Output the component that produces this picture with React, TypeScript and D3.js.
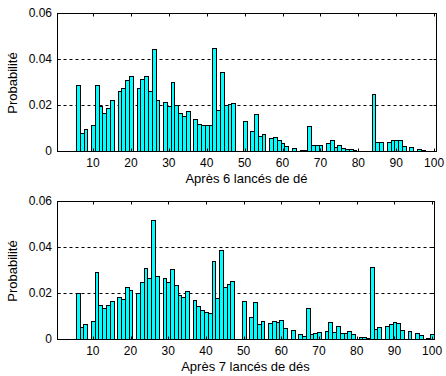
import React from "react";
import * as d3 from "d3";

const positions = [
  1, 2, 3, 4, 5, 6, 7, 8, 9, 10, 11, 12, 13, 14, 15, 16, 17, 18, 19, 20,
  21, 22, 23, 24, 25, 26, 27, 28, 29, 30, 31, 32, 33, 34, 35, 36, 37, 38, 39, 40,
  41, 42, 43, 44, 45, 46, 47, 48, 49, 50, 51, 52, 53, 54, 55, 56, 57, 58, 59, 60,
  61, 62, 63, 64, 65, 66, 67, 68, 69, 70, 71, 72, 73, 74, 75, 76, 77, 78, 79, 80,
  81, 82, 83, 84, 85, 86, 87, 88, 89, 90, 91, 92, 93, 94, 95, 96, 97, 98, 99, 100,
];

const probAfter6 = [
  0, 0, 0, 0, 0, 0.0287, 0.008, 0.0097, 0, 0.0114,
  0.0289, 0.0195, 0.0165, 0.0186, 0.022, 0, 0.0259, 0.0272, 0.031, 0.0327,
  0, 0.0276, 0.0314, 0.0327, 0.0259, 0.0444, 0.022, 0, 0.0213, 0.0195,
  0.0299, 0.0199, 0.0165, 0.0152, 0.0174, 0, 0.0139, 0.0118, 0.0114, 0.0114,
  0.0114, 0.0447, 0.0178, 0.0344, 0.0199, 0.0203, 0.0207, 0, 0, 0.0131,
  0, 0.0088, 0.0161, 0.0067, 0.0075, 0, 0.0058, 0.0063, 0.0046, 0.0033,
  0.002, 0, 0.0011, 0, 0.0003, 0.0003, 0.011, 0.0024, 0.0028, 0.0028,
  0, 0.0033, 0.005, 0.0016, 0.0024, 0.0011, 0.0007, 0.0007, 0.0003, 0,
  0, 0, 0, 0.025, 0.0037, 0.0037, 0, 0.0041, 0.0046, 0.005,
  0.005, 0.002, 0, 0.0016, 0, 0.0007, 0.0003, 0, 0, 0,
];

const probAfter7 = [
  0, 0, 0, 0, 0, 0.0199, 0.0052, 0.0065, 0, 0.0079,
  0.029, 0.0147, 0.0134, 0.0147, 0.0165, 0, 0.0182, 0.0173, 0.0225, 0.0212,
  0, 0.0199, 0.0247, 0.0307, 0.0264, 0.0519, 0.0273, 0, 0.0264, 0.0247,
  0.0303, 0.0234, 0.019, 0.0182, 0.0208, 0, 0.0169, 0.0143, 0.0126, 0.0117,
  0.0113, 0.0338, 0.0177, 0.0385, 0.0225, 0.0238, 0.0251, 0, 0, 0.0165,
  0, 0.0095, 0.016, 0.0065, 0.0078, 0, 0.0069, 0.0078, 0.0074, 0.0082,
  0.0048, 0, 0.0039, 0, 0.0022, 0.0013, 0.0134, 0.0022, 0.0026, 0.003,
  0, 0.0035, 0.0074, 0.003, 0.0056, 0.0026, 0.0026, 0.0035, 0.0022, 0,
  0.0009, 0.0009, 0.0004, 0.0312, 0.0043, 0.0052, 0, 0.0056, 0.0065, 0.0074,
  0.0069, 0.0039, 0, 0.0035, 0, 0.0026, 0.0017, 0, 0.0004, 0.0022,
];

const xTicks = [10, 20, 30, 40, 50, 60, 70, 80, 90, 100];
const yTicks = [0, 0.02, 0.04, 0.06];
const yTickLabels = ["0", "0.02", "0.04", "0.06"];
const gridValues = [0.02, 0.04];
const yLabel = "Probabilité";
const xLabels = ["Après 6 lancés de dé", "Après 7 lancés de dés"];

const FONT = "'Liberation Sans', Arial, Helvetica, sans-serif";

type PanelProps = {
  values: number[];
  xLabel: string;
  left: number;
  right: number;
  top: number;
  bottom: number;
};

function Panel({ values, xLabel, left, right, top, bottom }: PanelProps) {
  const x = d3.scaleLinear().domain([0.5, 100.5]).range([left, right]);
  const y = d3.scaleLinear().domain([0, 0.06]).range([bottom, top]);
  const px = (v: number) => Math.round(v) + 0.5;
  const L = px(left);
  const R = px(right);
  const T = px(top);
  const B = px(bottom);
  const tickLen = 3;

  return (
    <g>
      {gridValues.map((g) => (
        <line
          key={"g" + g}
          x1={L}
          x2={R}
          y1={px(y(g))}
          y2={px(y(g))}
          stroke="#000"
          strokeWidth={1}
          strokeDasharray="3,3"
        />
      ))}
      {positions.map((p, i) => {
        const v = values[i];
        if (!v) return null;
        const x0 = px(x(p - 0.5));
        const x1 = px(x(p + 0.5));
        const yt = px(y(v));
        return (
          <rect
            key={p}
            x={x0}
            y={yt}
            width={x1 - x0}
            height={Math.max(0, B - yt)}
            fill="#00FFFF"
            stroke="#000"
            strokeWidth={1}
          />
        );
      })}
      <rect x={L} y={T} width={R - L} height={B - T} fill="none" stroke="#000" strokeWidth={1} />
      {xTicks.map((t) => (
        <g key={"xt" + t}>
          <line x1={px(x(t))} x2={px(x(t))} y1={T} y2={T + tickLen} stroke="#000" />
          <line x1={px(x(t))} x2={px(x(t))} y1={B} y2={B - tickLen} stroke="#000" />
          <text
            x={x(t)}
            y={bottom + 16}
            textAnchor="middle"
            fontFamily={FONT}
            fontSize={12}
            fill="#000"
          >
            {t}
          </text>
        </g>
      ))}
      {yTicks.map((t, i) => (
        <g key={"yt" + t}>
          <line x1={L} x2={L + tickLen} y1={px(y(t))} y2={px(y(t))} stroke="#000" />
          <line x1={R} x2={R - tickLen} y1={px(y(t))} y2={px(y(t))} stroke="#000" />
          <text
            x={left - 5}
            y={y(t) + 4.3}
            textAnchor="end"
            fontFamily={FONT}
            fontSize={12}
            fill="#000"
          >
            {yTickLabels[i]}
          </text>
        </g>
      ))}
      <text
        transform={`translate(16.5,${(top + bottom) / 2 + 1}) rotate(-90)`}
        textAnchor="middle"
        fontFamily={FONT}
        fontSize={13}
        fill="#000"
      >
        {yLabel}
      </text>
      <text
        x={(left + right) / 2}
        y={bottom + 31.5}
        textAnchor="middle"
        fontFamily={FONT}
        fontSize={13}
        fill="#000"
      >
        {xLabel}
      </text>
    </g>
  );
}

export default function App() {
  return (
    <svg
      width={446}
      height={376}
      style={{ position: "absolute", left: 0, top: 0, background: "#fff" }}
    >
      <rect x={0} y={0} width={446} height={376} fill="#fff" />
      <Panel values={probAfter6} xLabel={xLabels[0]} left={57} right={436} top={13} bottom={151} />
      <Panel values={probAfter7} xLabel={xLabels[1]} left={57} right={434} top={201} bottom={339} />
    </svg>
  );
}
